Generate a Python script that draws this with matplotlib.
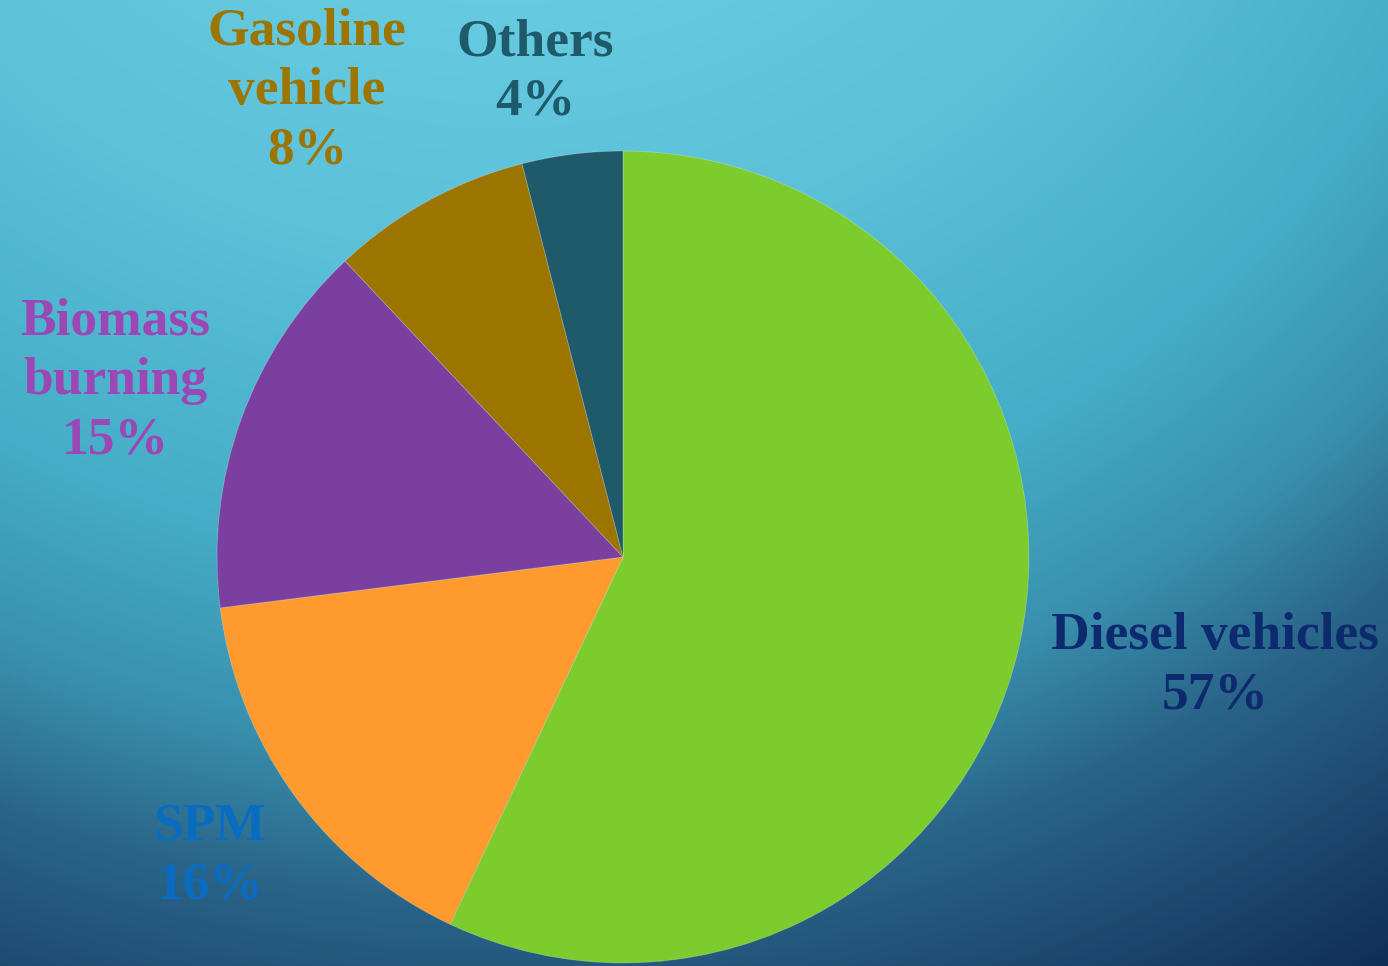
import matplotlib.pyplot as plt
import numpy as np
from matplotlib.colors import LinearSegmentedColormap

# Data
labels = ['Diesel vehicles', 'SPM', 'Biomass\nburning', 'Gasoline\nvehicle', 'Others']
shares = [57, 16, 15, 8, 4]
wedge_colors = ['#7dcc2e', '#ff9a2e', '#7b3fa0', '#9c7400', '#1f5a6a']
text_colors = ['#0d2a6e', '#0a6cc0', '#9b47b6', '#9c7400', '#1f5a6a']
# label centres in pixels (x, y from top)
label_pos = [(1215, 666), (210, 856), (115, 381), (307, 91), (535, 72)]

W, H = 1388, 966
fig = plt.figure(figsize=(W / 100, H / 100), dpi=100)

# Background: wide radial gradient, light cyan at the top to navy bottom right
bg = fig.add_axes([0, 0, 1, 1])
yy, xx = np.mgrid[0:H, 0:W]
dist = (np.hypot(xx - 500, yy + 500) - 500) / 1250.0
dist = np.clip(dist, 0, 1)
cmap = LinearSegmentedColormap.from_list(
    'bg', [(0.0, '#66cbe0'), (0.2, '#5cc1d9'), (0.45, '#45adc7'),
           (0.6, '#3990ae'), (0.72, '#2a6589'), (0.84, '#1e4a72'),
           (1.0, '#0d2752')])
bg.imshow(dist, cmap=cmap, vmin=0, vmax=1, aspect='auto', extent=[0, W, H, 0])
bg.set_xlim(0, W)
bg.set_ylim(H, 0)
bg.axis('off')

# Pie
ax = fig.add_axes([215 / W, 1 / H, 816 / W, 816 / H])
ax.pie(shares, colors=wedge_colors, startangle=90, counterclock=False,
       radius=1, wedgeprops=dict(linewidth=0.6, edgecolor=(1, 1, 1, 0.25)))
ax.set_xlim(-1.005, 1.005)
ax.set_ylim(-1.005, 1.005)
ax.set_aspect('equal')
ax.axis('off')

# Labels
for lab, val, col, (px, py) in zip(labels, shares, text_colors, label_pos):
    fig.text(px / W, 1 - py / H, f'{lab}\n{val}%', color=col,
             ha='center', va='center', fontsize=38.5, fontweight='bold',
             family='Liberation Serif', linespacing=1.3)

fig.savefig('out.png', dpi=100)
